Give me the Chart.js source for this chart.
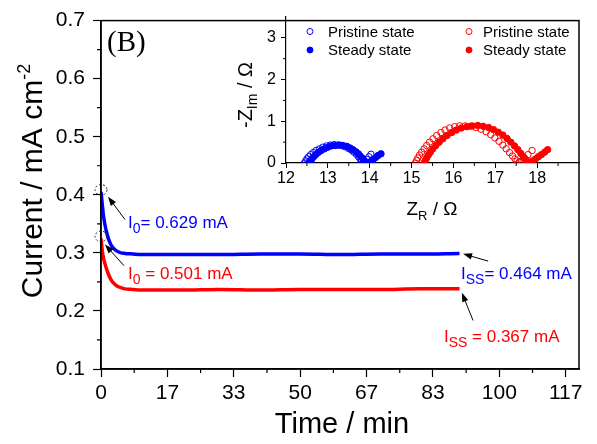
<!DOCTYPE html>
<html><head><meta charset="utf-8">
<script src="https://cdn.jsdelivr.net/npm/chart.js@4/dist/chart.umd.min.js"></script>
<style>html,body{margin:0;padding:0;background:#fff;}#wrap{position:relative;width:597px;height:444px;}canvas{position:absolute;left:0;top:0;}</style>
</head><body><div id="wrap"><canvas id="main" width="597" height="444"></canvas><canvas id="inset" width="597" height="444"></canvas></div>
<script>
// ---- main chart data (time in min, current density in mA cm^-2) ----
const timeMin    = [0, 0.3, 0.6, 1, 1.5, 2, 2.5, 3, 4, 5, 6, 8, 10, 15, 20, 30, 40, 50, 60, 70, 80, 90];
const blueCurrent= [0.405,0.385,0.365,0.348,0.333,0.322,0.314,0.309,0.303,0.300,0.299,0.298,0.297,0.297,0.297,0.297,0.298,0.298,0.297,0.298,0.298,0.299];
const redCurrent = [0.325,0.305,0.292,0.281,0.270,0.261,0.254,0.249,0.243,0.240,0.238,0.237,0.236,0.236,0.236,0.237,0.236,0.237,0.237,0.237,0.238,0.238];
const xTickValues = [0, 16.667, 33.333, 50, 66.667, 83.333, 100, 116.667];
const xTickLabels = ['0','17','33','50','67','83','100','117'];
const yTickValues = [0.1,0.2,0.3,0.4,0.5,0.6,0.7];
const yTickLabels = ['0.1','0.2','0.3','0.4','0.5','0.6','0.7'];

// ---- inset (Nyquist) data ----
const bluePristineZr = [12.44,12.47,12.50,12.54,12.59,12.65,12.72,12.80,12.88,12.97,13.06,13.15,13.24,13.33,13.41,13.49,13.56,13.62,13.68,13.73,13.77,13.80,13.84,13.88,13.93,13.98,14.03];
const bluePristineZi = [0.00,0.05,0.10,0.15,0.20,0.25,0.30,0.34,0.38,0.41,0.43,0.44,0.43,0.42,0.39,0.35,0.31,0.26,0.21,0.15,0.10,0.05,0.02,0.04,0.09,0.15,0.21];
const blueSteadyZr = [12.56,12.59,12.62,12.66,12.71,12.77,12.84,12.92,13.00,13.09,13.18,13.27,13.36,13.45,13.53,13.60,13.67,13.73,13.78,13.83,13.87,13.91,13.96,14.02,14.08,14.14,14.20,14.27];
const blueSteadyZi = [0.00,0.05,0.10,0.15,0.20,0.25,0.30,0.34,0.38,0.41,0.42,0.43,0.42,0.40,0.36,0.32,0.27,0.22,0.16,0.11,0.06,0.02,0.01,0.03,0.08,0.13,0.18,0.22];
const redPristineZr = [15.09,15.12,15.15,15.19,15.24,15.30,15.36,15.43,15.51,15.60,15.70,15.80,15.91,16.03,16.15,16.28,16.41,16.54,16.66,16.78,16.89,16.99,17.09,17.18,17.26,17.34,17.41,17.47,17.52,17.57,17.63,17.70,17.78,17.88];
const redPristineZi = [0.00,0.06,0.12,0.19,0.26,0.34,0.42,0.50,0.58,0.66,0.73,0.79,0.84,0.87,0.89,0.89,0.88,0.85,0.81,0.75,0.68,0.60,0.52,0.43,0.34,0.25,0.17,0.10,0.05,0.02,0.05,0.12,0.20,0.30];
const redSteadyZr = [15.30,15.33,15.36,15.40,15.45,15.51,15.58,15.66,15.75,15.85,15.96,16.07,16.19,16.32,16.45,16.58,16.71,16.84,16.96,17.07,17.18,17.28,17.37,17.46,17.54,17.61,17.67,17.72,17.77,17.82,17.89,17.96,18.03,18.10,18.18,18.25];
const redSteadyZi = [0.00,0.06,0.12,0.19,0.26,0.34,0.42,0.50,0.58,0.66,0.73,0.79,0.84,0.87,0.89,0.90,0.88,0.85,0.80,0.74,0.67,0.59,0.50,0.41,0.32,0.23,0.15,0.08,0.03,0.02,0.05,0.10,0.15,0.20,0.26,0.32];
const insetXTicks = [12,13,14,15,16,17,18];
const insetYTicks = [0,1,2,3];

const BLUE='#0000ff', RED='#ff0000';
const F = "'Liberation Sans', Arial, sans-serif";
Chart.defaults.font.family = F;
Chart.defaults.color = '#000';

function pts(xs, ys){ return xs.map((x,i)=>({x:x, y:ys[i]})); }
function drawRuns(ctx, x, y, runs, color){
  ctx.fillStyle=color; ctx.textBaseline='alphabetic'; ctx.textAlign='left';
  let cx=x;
  for(const [t,size,dy] of runs){ ctx.font=size+'px '+F; ctx.fillText(t,cx,y+dy); cx+=ctx.measureText(t).width; }
  return cx-x;
}
function runsWidth(ctx, runs){ let w=0; for(const [t,size] of runs){ ctx.font=size+'px '+F; w+=ctx.measureText(t).width; } return w; }
function arrow(ctx,x1,y1,x2,y2){
  const a=Math.atan2(y2-y1,x2-x1), L=9, W=3.2;
  ctx.strokeStyle='#000'; ctx.fillStyle='#000'; ctx.lineWidth=1; ctx.setLineDash([]);
  ctx.beginPath(); ctx.moveTo(x1,y1); ctx.lineTo(x2-L*0.8*Math.cos(a),y2-L*0.8*Math.sin(a)); ctx.stroke();
  ctx.beginPath(); ctx.moveTo(x2,y2);
  ctx.lineTo(x2-L*Math.cos(a)+W*Math.sin(a), y2-L*Math.sin(a)-W*Math.cos(a));
  ctx.lineTo(x2-L*Math.cos(a)-W*Math.sin(a), y2-L*Math.sin(a)+W*Math.cos(a));
  ctx.closePath(); ctx.fill();
}
function minorTicks(ctx, scale, values, len, horizontal){
  ctx.beginPath();
  for(const v of values){
    const p=scale.getPixelForValue(v);
    if(horizontal){ ctx.moveTo(p,scale.top); ctx.lineTo(p,scale.top+len); }
    else { ctx.moveTo(scale.right,p); ctx.lineTo(scale.right-len,p); }
  }
  ctx.stroke();
}

// annotations in data coordinates
const annotations = [
  {color:BLUE, runs:[['I',17,0],['0',14,5],['= 0.629 mA',17,0]], at:[6.78,0.342], tail:[6.03,0.3574], tip:[1.76,0.3966], ring:[0,0.4085]},
  {color:RED,  runs:[['I',17,0],['0',14,5],[' = 0.501 mA',17,0]], at:[6.78,0.2551], tail:[5.8,0.2778], tip:[1.0,0.3143], ring:[0,0.3284]},
  {color:BLUE, runs:[['I',17,0],['SS',14,5],['= 0.464 mA',17,0]], at:[90.38,0.2551], tail:[97.2,0.2858], tip:[90.9,0.2983]},
  {color:RED,  runs:[['I',17,0],['SS',14,5],[' = 0.367 mA',17,0]], at:[86.1,0.1461], tail:[93.4,0.1836], tip:[90.6,0.2313]}
];

const mainPlugin = {
  id:'mainDeco',
  afterDraw(chart){
    const ctx=chart.ctx, a=chart.chartArea, xs=chart.scales.x, ys=chart.scales.y;
    ctx.save();
    ctx.strokeStyle='#000'; ctx.lineWidth=1.5;
    ctx.strokeRect(a.left,a.top,a.right-a.left,a.bottom-a.top);
    ctx.lineWidth=1.2;
    const xm=[]; for(let i=0;i<xTickValues.length-1;i++) xm.push((xTickValues[i]+xTickValues[i+1])/2);
    minorTicks(ctx, xs, xm, 4, true);
    const ym=[]; for(let i=0;i<yTickValues.length-1;i++) ym.push((yTickValues[i]+yTickValues[i+1])/2);
    minorTicks(ctx, ys, ym, 4, false);
    // axis titles
    const xr=[['Time / min',29,0]];
    drawRuns(ctx, (a.left+a.right)/2 - runsWidth(ctx,xr)/2 + 2, 433, xr, '#000');
    const yr=[['Current / mA cm',30,0],['-2',18,-12]];
    const yw=runsWidth(ctx,yr);
    ctx.save(); ctx.translate(42, 181+yw/2); ctx.rotate(-Math.PI/2);
    drawRuns(ctx,0,0,yr,'#000'); ctx.restore();
    // panel label
    ctx.fillStyle='#000'; ctx.font="29px 'Liberation Serif', 'Times New Roman', serif"; ctx.textBaseline='alphabetic'; ctx.textAlign='left';
    ctx.fillText('(B)',107,51);
    // annotations
    for(const an of annotations){
      drawRuns(ctx, xs.getPixelForValue(an.at[0]), ys.getPixelForValue(an.at[1]), an.runs, an.color);
      arrow(ctx, xs.getPixelForValue(an.tail[0]), ys.getPixelForValue(an.tail[1]), xs.getPixelForValue(an.tip[0]), ys.getPixelForValue(an.tip[1]));
      if(an.ring){
        ctx.save(); ctx.setLineDash([2,2]); ctx.lineWidth=1; ctx.strokeStyle='#222';
        ctx.beginPath(); ctx.ellipse(xs.getPixelForValue(an.ring[0]), ys.getPixelForValue(an.ring[1]), 6, 5.3, 0, 0, Math.PI*2); ctx.stroke(); ctx.restore();
      }
    }
    ctx.restore();
  }
};

function axisCommon(extra){
  return Object.assign({
    type:'linear',
    grid:{drawOnChartArea:false, drawTicks:true, tickColor:'#000', tickWidth:1.2},
    border:{display:true, color:'#000', width:1.5}
  }, extra);
}

new Chart(document.getElementById('main'), {
  type:'scatter',
  data:{datasets:[
    {data:pts(timeMin,redCurrent), borderColor:RED, backgroundColor:RED, showLine:true, pointRadius:0, borderWidth:3.5, cubicInterpolationMode:'monotone'},
    {data:pts(timeMin,blueCurrent), borderColor:BLUE, backgroundColor:BLUE, showLine:true, pointRadius:0, borderWidth:3.5, cubicInterpolationMode:'monotone'}
  ]},
  options:{
    responsive:false, animation:false, devicePixelRatio:1,
    layout:{padding:{left:0,right:18,top:17,bottom:0}, autoPadding:false},
    plugins:{legend:{display:false}, tooltip:{enabled:false}},
    scales:{
      x: axisCommon({min:0,max:120,
        afterBuildTicks:s=>{s.ticks=xTickValues.map(v=>({value:v}));},
        ticks:{callback:(v,i)=>xTickLabels[i], font:{size:21}, color:'#000', padding:4, maxRotation:0, autoSkip:false},
        grid:{drawOnChartArea:false, drawTicks:true, tickColor:'#000', tickWidth:1.2, tickLength:8},
        afterFit:s=>{s.height=75;}}),
      y: axisCommon({min:0.1,max:0.7,
        afterBuildTicks:s=>{s.ticks=yTickValues.map(v=>({value:v}));},
        ticks:{callback:(v,i)=>yTickLabels[i], font:{size:21}, color:'#000', padding:8, autoSkip:false},
        grid:{drawOnChartArea:false, drawTicks:true, tickColor:'#000', tickWidth:1.2, tickLength:8},
        afterFit:s=>{s.width=101;}})
    }
  },
  plugins:[mainPlugin]
});

const legendItems = [
  {mx:310, my:31.5, tx:328, color:BLUE, filled:false, label:'Pristine state'},
  {mx:310, my:50,   tx:328, color:BLUE, filled:true,  label:'Steady state'},
  {mx:469, my:31.5, tx:483, color:RED,  filled:false, label:'Pristine state'},
  {mx:469, my:50,   tx:483, color:RED,  filled:true,  label:'Steady state'}
];

const insetPlugin = {
  id:'insetDeco',
  afterDraw(chart){
    const ctx=chart.ctx, xs=chart.scales.x, ys=chart.scales.y;
    ctx.save(); ctx.strokeStyle='#000'; ctx.lineWidth=1;
    minorTicks(ctx, xs, [12.5,13.5,14.5,15.5,16.5,17.5,18.5], 3, true);
    minorTicks(ctx, ys, [0.5,1.5,2.5], 3, false);
    const xr=[['Z',19,0],['R',13,5],[' / Ω',19,0]];
    drawRuns(ctx, 432-runsWidth(ctx,xr)/2, 215, xr, '#000');
    const yr=[['-Z',20,0],['Im',14,5],[' / Ω',20,0]];
    const yw=runsWidth(ctx,yr);
    ctx.save(); ctx.translate(252, 95+yw/2); ctx.rotate(-Math.PI/2); drawRuns(ctx,0,0,yr,'#000'); ctx.restore();
    for(const it of legendItems){
      ctx.beginPath(); ctx.arc(it.mx,it.my,3,0,Math.PI*2);
      ctx.lineWidth=1; ctx.strokeStyle=it.color; ctx.fillStyle=it.color;
      if(it.filled) ctx.fill(); ctx.stroke();
      ctx.font='15px '+F; ctx.fillStyle='#000'; ctx.textBaseline='alphabetic'; ctx.textAlign='left';
      ctx.fillText(it.label, it.tx, it.my+5.4);
    }
    ctx.restore();
  }
};

function ds(xs,ys,color,filled){
  return {data:pts(xs,ys), showLine:false, pointStyle:'circle', pointRadius:3.2, pointBorderWidth:1,
    borderColor:color, backgroundColor: filled?color:'rgba(0,0,0,0)', pointBackgroundColor: filled?color:'rgba(0,0,0,0)'};
}

new Chart(document.getElementById('inset'), {
  type:'scatter',
  data:{datasets:[
    ds(bluePristineZr,bluePristineZi,BLUE,false),
    ds(blueSteadyZr,blueSteadyZi,BLUE,true),
    ds(redPristineZr,redPristineZi,RED,false),
    ds(redSteadyZr,redSteadyZi,RED,true)
  ]},
  options:{
    responsive:false, animation:false, devicePixelRatio:1,
    layout:{padding:{left:0,right:18,top:17,bottom:0}, autoPadding:false},
    plugins:{legend:{display:false}, tooltip:{enabled:false}},
    scales:{
      x: axisCommon({min:12,max:19,
        afterBuildTicks:s=>{s.ticks=insetXTicks.map(v=>({value:v}));},
        ticks:{callback:(v)=>String(v), font:{size:16}, color:'#000', padding:1, maxRotation:0, autoSkip:false},
        grid:{drawOnChartArea:false, drawTicks:true, tickColor:'#000', tickWidth:1, tickLength:5},
        border:{display:true,color:'#000',width:1.2},
        afterFit:s=>{s.height=281;}}),
      y: axisCommon({min:0,max:3.5,
        afterBuildTicks:s=>{s.ticks=insetYTicks.map(v=>({value:v}));},
        ticks:{callback:(v)=>String(v), font:{size:16}, color:'#000', padding:5, autoSkip:false},
        grid:{drawOnChartArea:false, drawTicks:true, tickColor:'#000', tickWidth:1, tickLength:5},
        border:{display:true,color:'#000',width:1.2},
        afterFit:s=>{s.width=286;}})
    }
  },
  plugins:[insetPlugin]
});
</script></body></html>
